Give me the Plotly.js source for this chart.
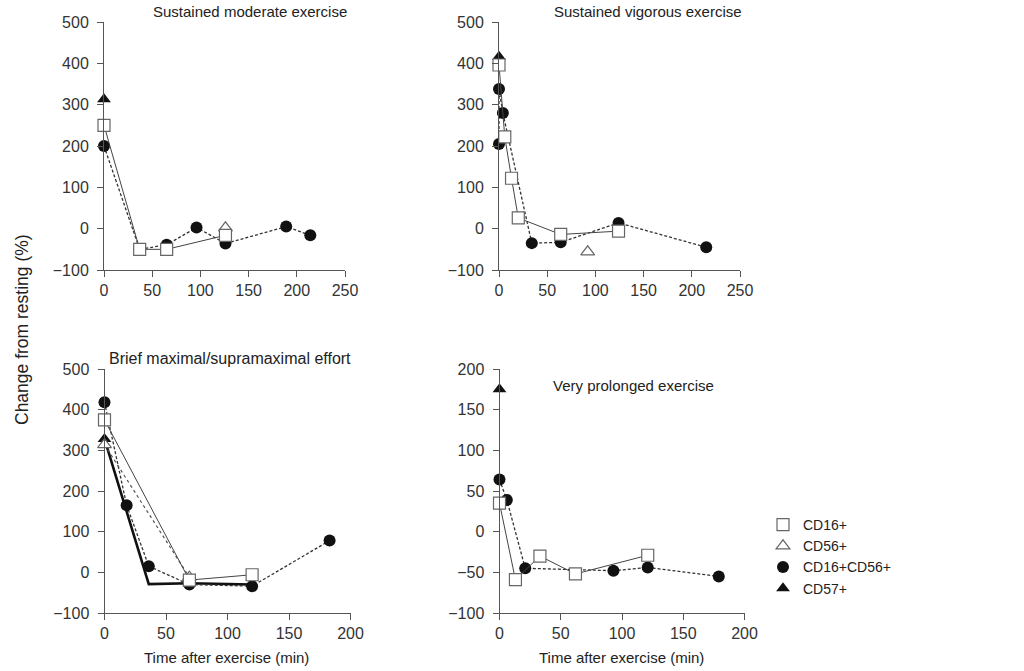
<!DOCTYPE html>
<html>
<head>
<meta charset="utf-8">
<script src="https://cdn.plot.ly/plotly-3.0.1.min.js"></script>
<style>html,body{margin:0;padding:0;background:#fff;}#chart{width:1024px;height:671px;}</style>
</head>
<body>
<div id="chart"></div>
<script>
// ---------- data ----------
const seriesNames = ["CD16+", "CD56+", "CD16+CD56+", "CD57+"];
const panelTitles = ["Sustained moderate exercise", "Sustained vigorous exercise",
                     "Brief maximal/supramaximal effort", "Very prolonged exercise"];
const xTitle = "Time after exercise (min)";
const yTitle = "Change from resting (%)";

// Panel 1: sustained moderate
const p1_cd16_x = [0, 37, 65, 126];
const p1_cd16_y = [250, -50, -50, -16];
const p1_cd56_x = [126];
const p1_cd56_y = [2];
const p1_dual_x = [0, 37, 65, 96, 126, 189, 214];
const p1_dual_y = [200, -50, -39, 3, -36, 5, -16];
const p1_cd57_x = [0];
const p1_cd57_y = [313];

// Panel 2: sustained vigorous
const p2_cd16_x = [0, 6, 13, 20, 64, 124];
const p2_cd16_y = [396, 222, 122, 26, -14, -6];
const p2_cd56_x = [92];
const p2_cd56_y = [-56];
const p2_dual_x = [0, 0, 4, 34, 64, 124, 215];
const p2_dual_y = [205, 338, 280, -35, -33, 14, -45];
const p2_cd57_x = [0];
const p2_cd57_y = [416];

// Panel 3: brief maximal
const p3_cd16_x = [0, 69, 120];
const p3_cd16_y = [375, -19, -6];
const p3_cd56_x = [0, 69];
const p3_cd56_y = [314, -12];
const p3_dual_x = [0, 18, 36, 69, 120, 183];
const p3_dual_y = [418, 165, 15, -30, -34, 78];
const p3_cd57_x = [0, 36, 69, 120];
const p3_cd57_y = [328, -29, -27, -30];
const p3_cd57_marker = [12, 0, 0, 0];

// Panel 4: very prolonged
const p4_cd16_x = [0, 13, 33, 62, 121];
const p4_cd16_y = [35, -59, -30, -52, -29];
const p4_dual_x = [0, 6, 21, 93, 121, 179];
const p4_dual_y = [64, 39, -45, -48, -44, -55];
const p4_cd57_x = [0];
const p4_cd57_y = [175];

const topTicks = [-100, 0, 100, 200, 300, 400, 500];
const p4Ticks = [-100, -50, 0, 50, 100, 150, 200];
const xTicksTop = [0, 50, 100, 150, 200, 250];
const xTicksBottom = [0, 50, 100, 150, 200];

// ---------- styles ----------
const FONT = "Liberation Sans, Arial, sans-serif";
const TXT = "#222";
const MS = 12;
const styles = {
  "CD16+":      {symbol: "square", color: "#fff", line: {color: "#666", width: 1.2}, lc: "#444", dash: "solid", lw: 1},
  "CD56+":      {symbol: "triangle-up", color: "#fff", line: {color: "#666", width: 1.2}, lc: "#555", dash: "dot", lw: 1.2},
  "CD16+CD56+": {symbol: "circle", color: "#111", line: {color: "#111", width: 0}, lc: "#333", dash: "3px,2px", lw: 1.3},
  "CD57+":      {symbol: "triangle-up", color: "#111", line: {color: "#111", width: 0}, lc: "#111", dash: "solid", lw: 2.6}
};

function tr(name, xs, ys, ax, size) {
  const s = styles[name];
  return {
    type: "scatter", mode: xs.length > 1 ? "lines+markers" : "markers",
    x: xs, y: ys, xaxis: "x" + ax, yaxis: "y" + ax, showlegend: false, cliponaxis: false,
    line: {color: s.lc, dash: s.dash, width: s.lw},
    marker: {symbol: s.symbol, color: s.color, size: size || MS, line: s.line, opacity: 1},
    hoverinfo: "skip"
  };
}

const data = [
  tr("CD16+CD56+", p1_dual_x, p1_dual_y, ""),
  tr("CD57+", p1_cd57_x, p1_cd57_y, ""),
  tr("CD56+", p1_cd56_x, p1_cd56_y, ""),
  tr("CD16+", p1_cd16_x, p1_cd16_y, ""),

  tr("CD16+CD56+", p2_dual_x, p2_dual_y, "2"),
  tr("CD57+", p2_cd57_x, p2_cd57_y, "2"),
  tr("CD56+", p2_cd56_x, p2_cd56_y, "2"),
  tr("CD16+", p2_cd16_x, p2_cd16_y, "2"),

  tr("CD57+", p3_cd57_x, p3_cd57_y, "3", p3_cd57_marker),
  tr("CD16+CD56+", p3_dual_x, p3_dual_y, "3"),
  tr("CD56+", p3_cd56_x, p3_cd56_y, "3"),
  tr("CD16+", p3_cd16_x, p3_cd16_y, "3"),

  tr("CD16+CD56+", p4_dual_x, p4_dual_y, "4"),
  tr("CD57+", p4_cd57_x, p4_cd57_y, "4"),
  tr("CD16+", p4_cd16_x, p4_cd16_y, "4")
];

// legend-only entries (markers only)
seriesNames.forEach(n => {
  const s = styles[n];
  data.push({type: "scatter", mode: "markers", x: [null], y: [null], name: n, showlegend: true,
    marker: {symbol: s.symbol, color: s.color, size: MS, line: s.line}, xaxis: "x", yaxis: "y"});
});

const W = 1024, H = 671;
const fx = p => p / W, fy = p => 1 - p / H;

function xa(domPx, range, ticks, anchor) {
  return {domain: [fx(domPx[0]), fx(domPx[1])], range: range, tickvals: ticks, anchor: anchor,
    showgrid: false, zeroline: false, showline: true, linecolor: "#555", linewidth: 1,
    ticks: "outside", ticklen: 6, tickcolor: "#555", tickwidth: 1,
    tickfont: {family: FONT, size: 16, color: "#333"}, fixedrange: true};
}
function ya(domPx, range, ticks, anchor) {
  return {domain: [fy(domPx[1]), fy(domPx[0])], range: range, tickvals: ticks, anchor: anchor,
    showgrid: false, zeroline: false, showline: true, linecolor: "#555", linewidth: 1,
    ticks: "outside", ticklen: 6, tickcolor: "#555", tickwidth: 1, ticklabelstandoff: 5,
    tickfont: {family: FONT, size: 16, color: "#333"}, fixedrange: true};
}

function ann(text, xpx, ypx, size, angle) {
  return {text: text, x: fx(xpx), y: fy(ypx), xref: "paper", yref: "paper", showarrow: false,
    xanchor: "center", yanchor: "middle", textangle: angle || 0,
    font: {family: FONT, size: size, color: TXT}};
}

const layout = {
  width: W, height: H, margin: {l: 0, r: 0, t: 0, b: 0},
  paper_bgcolor: "#fff", plot_bgcolor: "#fff",
  font: {family: FONT, size: 15, color: TXT},
  xaxis:  xa([104, 345], [0, 250], xTicksTop, "y"),
  yaxis:  ya([22, 270], [-100, 500], topTicks, "x"),
  xaxis2: xa([499, 740], [0, 250], xTicksTop, "y2"),
  yaxis2: ya([22, 270], [-100, 500], topTicks, "x2"),
  xaxis3: xa([104.5, 350.5], [0, 200], xTicksBottom, "y3"),
  yaxis3: ya([369, 613], [-100, 500], topTicks, "x3"),
  xaxis4: xa([499.5, 744.5], [0, 200], xTicksBottom, "y4"),
  yaxis4: ya([369, 613], [-100, 200], p4Ticks, "x4"),
  showlegend: true,
  legend: {x: fx(763), y: fy(509), xanchor: "left", yanchor: "top", bgcolor: "rgba(0,0,0,0)",
    font: {family: FONT, size: 14, color: TXT}, itemwidth: 30, tracegroupgap: 0},
  annotations: [
    ann(panelTitles[0], 250, 12, 15),
    ann(panelTitles[1], 648, 12, 15),
    ann(panelTitles[2], 230, 358, 16),
    ann(panelTitles[3], 633, 385, 15),
    ann(xTitle, 226, 657, 15),
    ann(xTitle, 621, 657, 15),
    ann(yTitle, 22, 330, 17.5, -90)
  ]
};

Plotly.newPlot("chart", data, layout, {staticPlot: true, displayModeBar: false});
</script>
</body>
</html>
